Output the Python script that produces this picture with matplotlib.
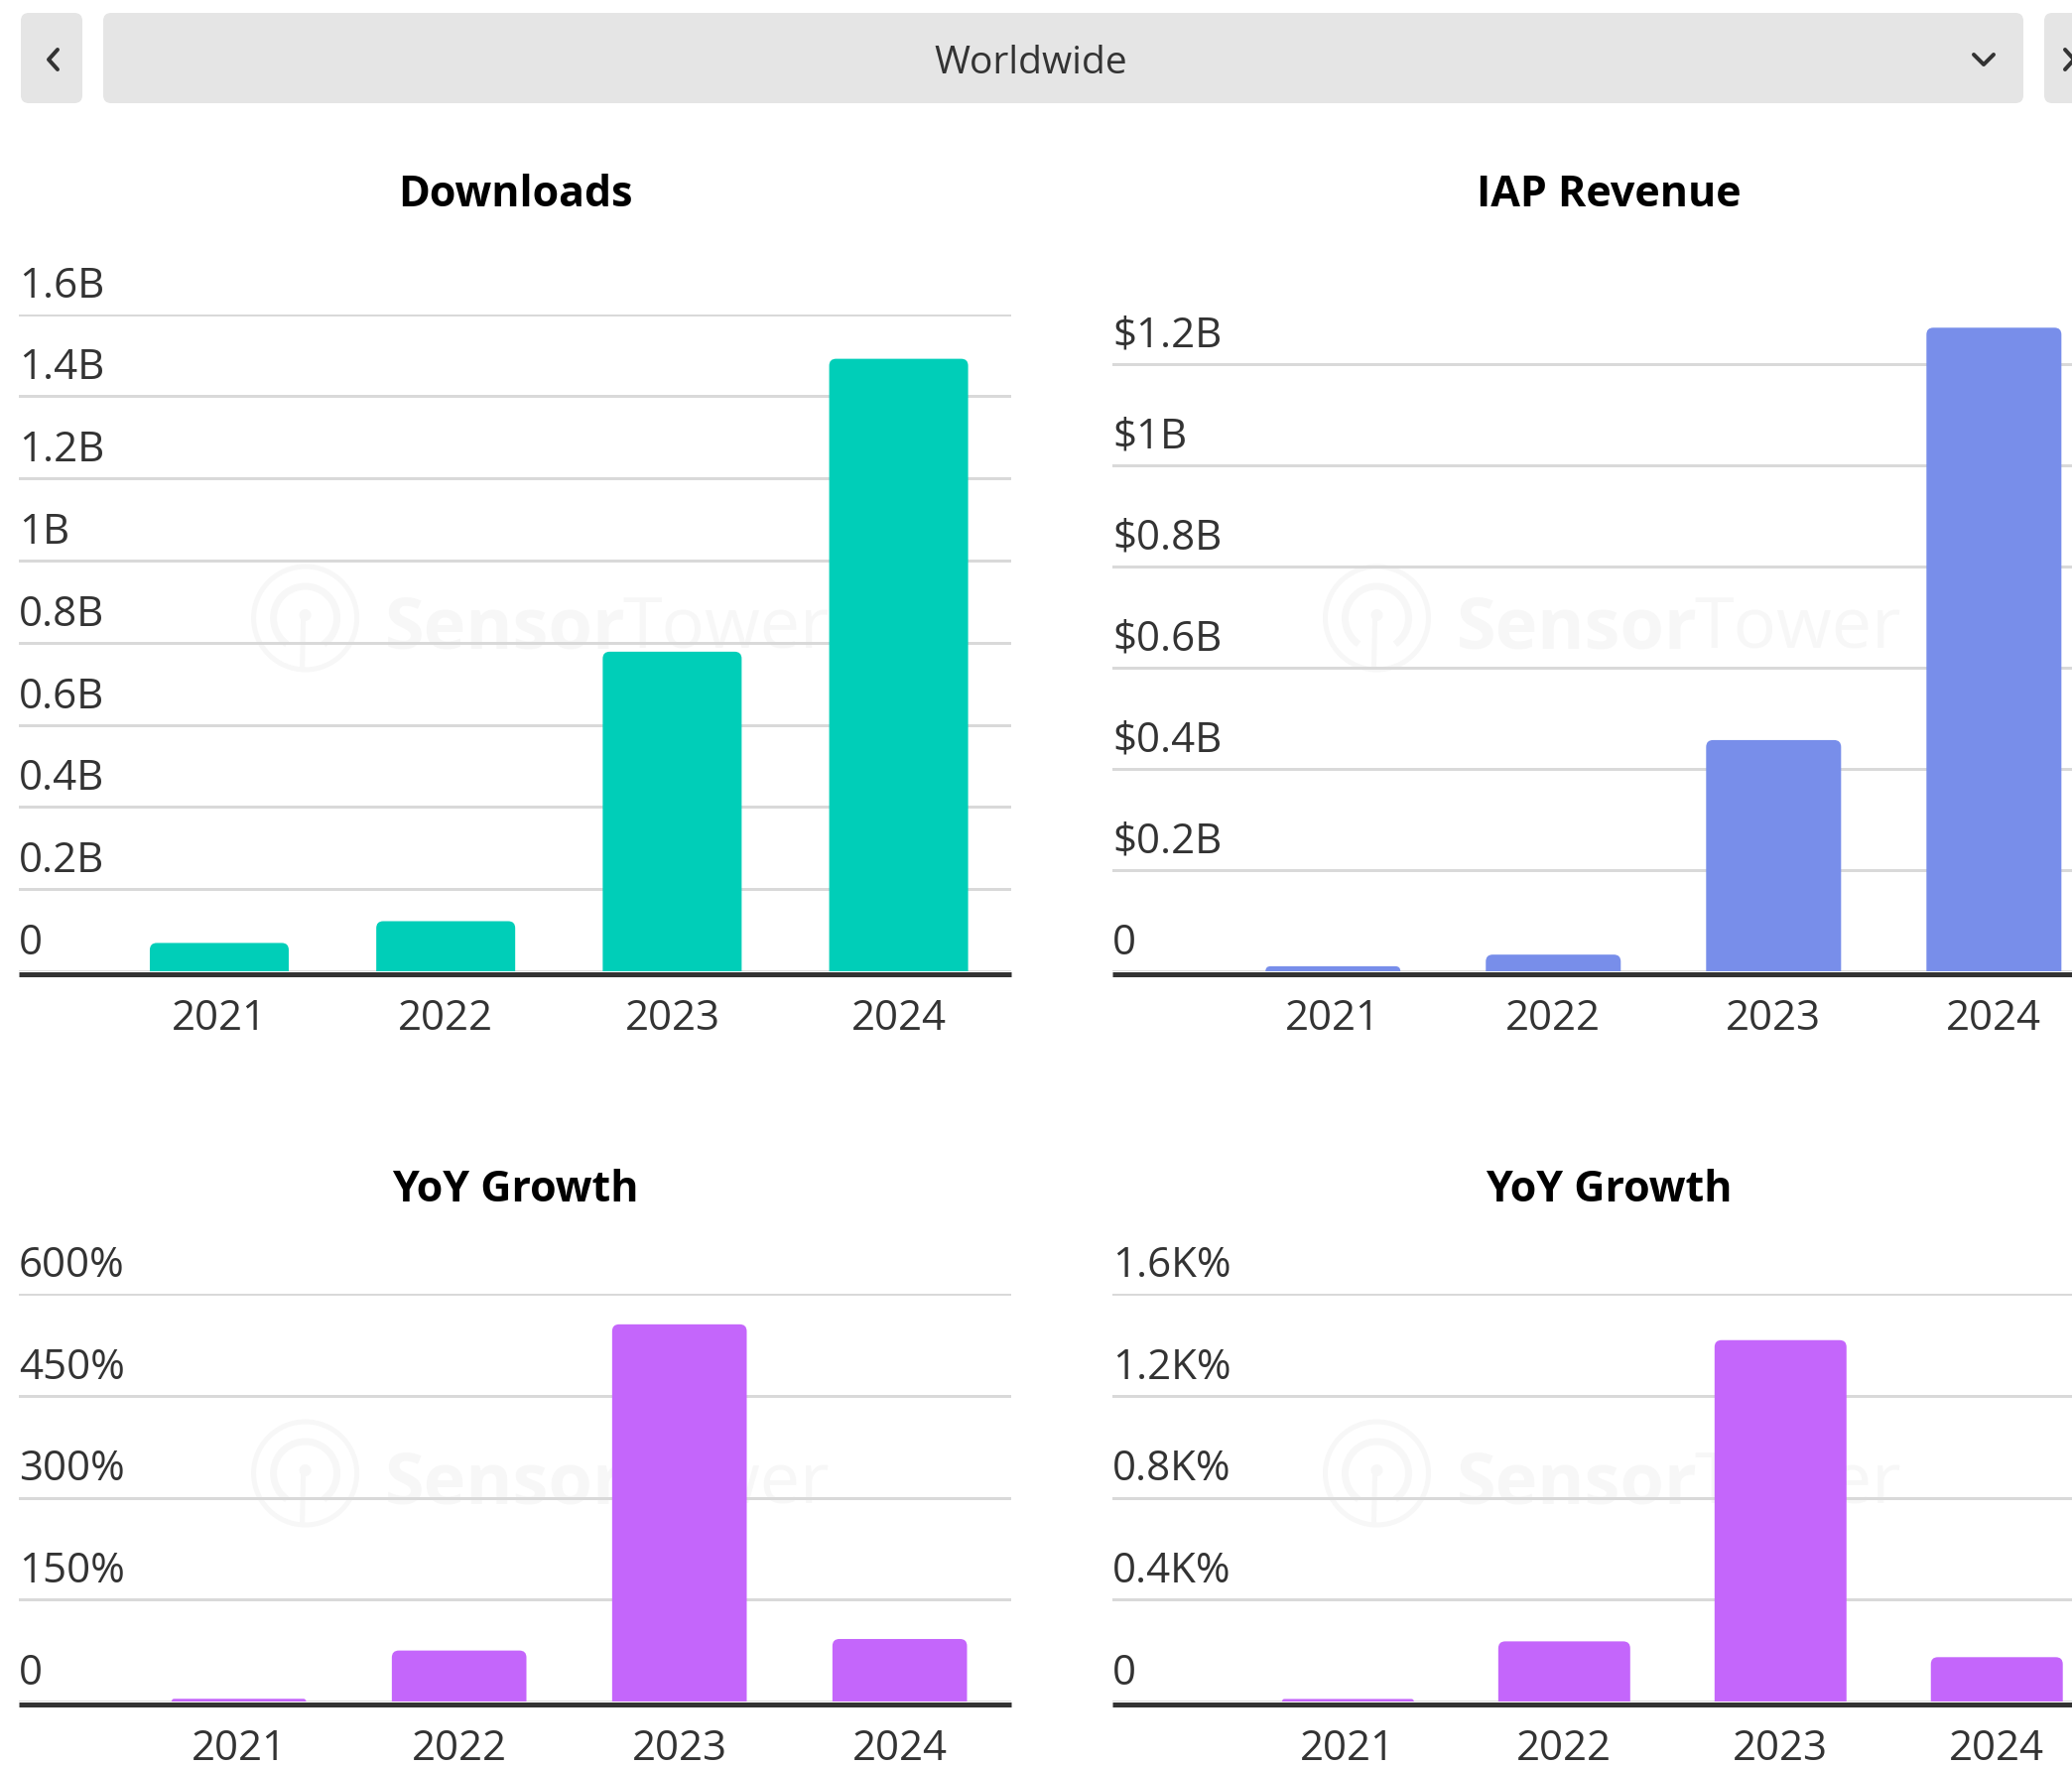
import matplotlib
matplotlib.use('Agg')
import matplotlib.pyplot as plt
from matplotlib.patches import FancyBboxPatch, Circle, Arc
from matplotlib.lines import Line2D
import matplotlib.transforms as mtransforms

# ---------------- data ----------------
years = ['2021', '2022', '2023', '2024']
downloads = [0.069, 0.122, 0.778, 1.491]          # billions
iap_revenue = [0.010, 0.033, 0.457, 1.272]        # $ billions
downloads_yoy = [4, 75, 555, 92]                  # %
revenue_yoy = [10, 236, 1418, 174]                # %

downloads_ticks = [0, 0.2, 0.4, 0.6, 0.8, 1.0, 1.2, 1.4, 1.6]
downloads_labels = ['0', '0.2B', '0.4B', '0.6B', '0.8B', '1B', '1.2B', '1.4B', '1.6B']
revenue_ticks = [0, 0.2, 0.4, 0.6, 0.8, 1.0, 1.2]
revenue_labels = ['0', '$0.2B', '$0.4B', '$0.6B', '$0.8B', '$1B', '$1.2B']
dl_yoy_ticks = [0, 150, 300, 450, 600]
dl_yoy_labels = ['0', '150%', '300%', '450%', '600%']
rev_yoy_ticks = [0, 400, 800, 1200, 1600]
rev_yoy_labels = ['0', '0.4K%', '0.8K%', '1.2K%', '1.6K%']

TEAL = '#00CEB8'
BLUE = '#788EEA'
PURPLE = '#C466FB'
TEXT = '#333333'
GRID = '#D9D9D9'
WM = '#F7F7F7'

W, H = 2088, 1780
DPI = 100
FONT = 'Open Sans'
plt.rcParams['font.family'] = [FONT, 'DejaVu Sans']

fig = plt.figure(figsize=(W / DPI, H / DPI), dpi=DPI)
fig.patch.set_facecolor('white')
PX = mtransforms.IdentityTransform()


def pt(px):
    return px * 72.0 / DPI


def fy(y):
    return H - y


# ---------------- header bar ----------------
def box(x0, y0, x1, y1, r=8):
    p = FancyBboxPatch((x0, fy(y1)), x1 - x0, y1 - y0,
                       boxstyle=f"round,pad=0,rounding_size={r}",
                       transform=PX, facecolor='#E5E5E5', edgecolor='none', zorder=1)
    fig.add_artist(p)


box(21, 13, 83, 104)
box(104, 13, 2039, 104)
box(2060, 13, 2140, 104)


def poly(xs, ys, lw=4.0):
    fig.add_artist(Line2D(xs, [fy(v) for v in ys], transform=PX, color=TEXT,
                          lw=pt(lw), solid_capstyle='round', solid_joinstyle='round', zorder=2))


poly([58, 49, 58], [50, 60, 70])              # left chevron
poly([1989, 1999, 2009], [55, 65, 55])         # down chevron
poly([2081, 2090, 2081], [50, 60, 70])         # right chevron (clipped)

fig.text(1039 / W, fy(74) / H, 'Worldwide', ha='center', va='baseline',
         fontsize=pt(39), color=TEXT, family=FONT)

# ---------------- panels ----------------
panels = [
    dict(title='Downloads', values=downloads, ticks=downloads_ticks, labels=downloads_labels,
         color=TEAL, left=19, right=1019, y0=979, ytop=316.5, ymax=1.6,
         xlim=(-0.885, 3.497), width=0.6135, title_y=208, wm=(307.6, 623)),
    dict(title='IAP Revenue', values=iap_revenue, ticks=revenue_ticks, labels=revenue_labels,
         color=BLUE, left=1121, right=2121, y0=979, ytop=979 - 1.3 * 510, ymax=1.3,
         xlim=(-1.001, 3.503), width=0.6126, title_y=208, wm=(1387.5, 623)),
    dict(title='YoY Growth', values=downloads_yoy, ticks=dl_yoy_ticks, labels=dl_yoy_labels,
         color=PURPLE, left=19, right=1019, y0=1715, ytop=1304, ymax=600,
         xlim=(-0.9986, 3.506), width=0.611, title_y=1211, wm=(307.6, 1485)),
    dict(title='YoY Growth', values=revenue_yoy, ticks=rev_yoy_ticks, labels=rev_yoy_labels,
         color=PURPLE, left=1121, right=2121, y0=1715, ytop=1304, ymax=1600,
         xlim=(-1.089, 3.499), width=0.61, title_y=1211, wm=(1387.5, 1485)),
]


def watermark(cx, cy):
    kw = dict(transform=PX, facecolor='none', edgecolor=WM, zorder=-1)
    fig.add_artist(Circle((cx, fy(cy)), 52, lw=pt(5), **kw))
    fig.add_artist(Arc((cx, fy(cy)), 64, 64, theta1=-55, theta2=235, lw=pt(7),
                       edgecolor=WM, transform=PX, zorder=-1))
    fig.add_artist(Circle((cx, fy(cy - 3)), 6, transform=PX, facecolor=WM,
                          edgecolor='none', zorder=-1))
    fig.add_artist(Line2D([cx - 2, cx - 3], [fy(cy + 2), fy(cy + 50)], transform=PX,
                          color=WM, lw=pt(5), zorder=-1))
    fig.text((cx + 80) / W, fy(cy + 30) / H, 'Sensor', ha='left', va='baseline',
             fontsize=pt(72), fontweight='bold', color=WM, zorder=-1, family=FONT)
    fig.text((cx + 320) / W, fy(cy + 30) / H, 'Tower', ha='left', va='baseline',
             fontsize=pt(72), color=WM, zorder=-1, family=FONT)


for p in panels:
    watermark(*p['wm'])
    ax = fig.add_axes([p['left'] / W, fy(p['y0']) / H,
                       (p['right'] - p['left']) / W, (p['y0'] - p['ytop']) / H])
    ax.patch.set_visible(False)
    ax.set_xlim(*p['xlim'])
    ax.set_ylim(0, p['ymax'])
    x = list(range(len(years)))
    bars = ax.bar(x, p['values'], width=p['width'], color=p['color'], zorder=2)

    # rounded top corners derived from the bar geometry
    wpx = p['right'] - p['left']
    hpx = p['y0'] - p['ytop']
    ppx = wpx / (p['xlim'][1] - p['xlim'][0])
    ppy = hpx / p['ymax']
    for b in bars:
        h_px = b.get_height() * ppy
        r_px = max(1.0, min(7.0, h_px))
        rx = r_px / ppx
        ry = r_px / ppy
        fb = FancyBboxPatch((b.get_x(), -ry), b.get_width(), b.get_height() + ry,
                            boxstyle=f"round,pad=0,rounding_size={rx}",
                            mutation_aspect=ppx / ppy,
                            facecolor=p['color'], edgecolor='none', zorder=2)
        ax.add_patch(fb)
        b.set_visible(False)

    ax.set_yticks(p['ticks'])
    ax.set_yticklabels([])
    ax.tick_params(axis='y', length=0)
    ax.grid(axis='y', color=GRID, lw=pt(3), zorder=0.5)
    ax.set_axisbelow(True)
    for side in ('left', 'right', 'top'):
        ax.spines[side].set_visible(False)
    ax.spines['bottom'].set_color(TEXT)
    ax.spines['bottom'].set_linewidth(pt(5))
    ax.spines['bottom'].set_capstyle('butt')
    ax.spines['bottom'].set_position(('outward', pt(2.5)))
    ax.spines['bottom'].set_zorder(3)

    for t, lab in zip(p['ticks'], p['labels']):
        ax.annotate(lab, xy=(0, t), xycoords=('axes fraction', 'data'),
                    xytext=(0, 17), textcoords='offset pixels',
                    ha='left', va='baseline', fontsize=pt(42), color=TEXT,
                    parse_math=False, annotation_clip=False)

    ax.set_xticks(x)
    ax.set_xticklabels(years, fontsize=pt(42), color=TEXT)
    ax.tick_params(axis='x', length=0, pad=pt(24))

    fig.text(((p['left'] + p['right']) / 2) / W, fy(p['title_y']) / H, p['title'],
             ha='center', va='baseline', fontsize=pt(43), fontweight='bold',
             color='black', family=FONT)

fig.savefig('out.png', dpi=DPI, facecolor='white')
